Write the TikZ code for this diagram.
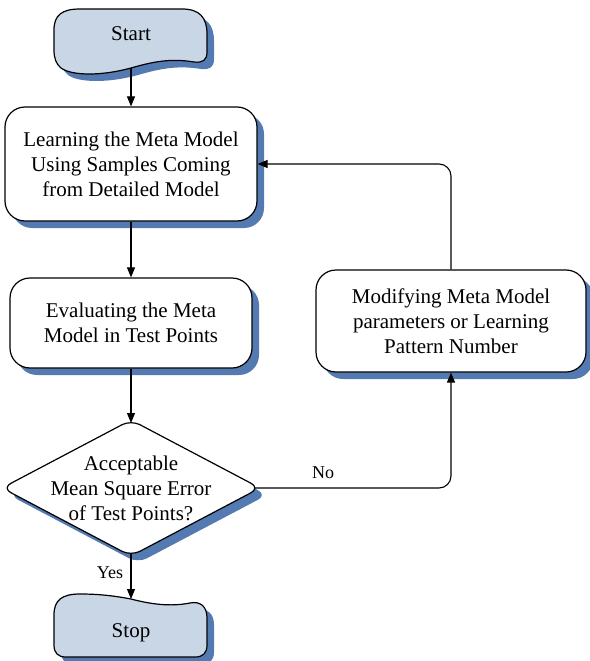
\documentclass[tikz,border=0pt]{standalone}
\usepackage{fontspec}
\setmainfont{Liberation Serif}
\usetikzlibrary{arrows.meta,shadows}
\definecolor{shadowblue}{RGB}{84,122,178}
\definecolor{termfill}{RGB}{201,214,230}
\begin{document}
\begin{tikzpicture}[x=1pt,y=-1pt,
  myshadow/.style={drop shadow={shadow xshift=7pt,shadow yshift=-7pt,fill=shadowblue,opacity=1}},
  procbox/.style={draw=black,line width=1.2pt,fill=white,rounded corners=20pt,myshadow,
    align=center,font=\fontsize{21}{25}\selectfont,inner sep=0pt},
  shapeline/.style={draw=black,line width=1.2pt,myshadow},
  txt/.style={align=center,font=\fontsize{21}{25}\selectfont,inner sep=0pt},
  conn/.style={draw=black,line width=1.1pt,-{Triangle[length=10pt,width=8pt]}},
  lbl/.style={font=\fontsize{18}{21}\selectfont,inner sep=0pt}]
\useasboundingbox (0,0) rectangle (589,661);
% Start terminal
\path[shapeline,fill=termfill] (54,30) .. controls (54,15) and (62,9) .. (80,9) -- (182,9)
  .. controls (200,9) and (207,18) .. (207,34) -- (207,52)
  .. controls (207,60) and (203,63) .. (194,62)
  .. controls (170,58) and (152,62) .. (131,68)
  .. controls (102,76) and (72,76) .. (61,68)
  .. controls (56,64) and (54,58) .. (54,50) -- cycle;
\node[txt] (start) at (131,34) {Start};
\coordinate (starttip) at (131,68);
% Process boxes
\node[procbox,minimum width=252pt,minimum height=114pt] (learn) at (131,164)
  {Learning the Meta Model\\Using Samples Coming\\from Detailed Model};
\node[procbox,minimum width=242pt,minimum height=90pt] (eval) at (131,323)
  {Evaluating the Meta\\Model in Test Points};
\node[procbox,minimum width=270pt,minimum height=102pt] (mod) at (451,321)
  {Modifying Meta Model\\parameters or Learning\\Pattern Number};
% Decision
\path[shapeline,fill=white,rounded corners=10pt] (131,420) -- (260,488) -- (131,556) -- (2,488) -- cycle;
\node[txt] (dec) at (131,488) {Acceptable\\Mean Square Error\\of Test Points?};
\coordinate (decN) at (131,423);
\coordinate (decS) at (131,553);
\coordinate (decE) at (255,488);
% Stop terminal
\path[shapeline,fill=termfill] (54,615) .. controls (54,600) and (62,594) .. (80,594)
  .. controls (100,594) and (115,596) .. (131,599)
  .. controls (150,604) and (170,607) .. (190,603)
  .. controls (200,601) and (207,606) .. (207,618) -- (207,645)
  .. controls (207,653) and (203,657) .. (195,657) -- (66,657)
  .. controls (58,657) and (54,653) .. (54,645) -- cycle;
\node[txt] (stop) at (131,633) {Stop};
\coordinate (stoptop) at (131,599);
% Connectors
\draw[conn] (starttip) -- (learn.north);
\draw[conn] (learn.south) -- (eval.north);
\draw[conn] (eval.south) -- (decN);
\draw[conn] (decS) -- (stoptop);
\draw[conn,rounded corners=12pt] (decE) -| (mod.south);
\draw[conn,rounded corners=12pt] (mod.north) |- (learn.east);
\node[lbl] (no) at (323,473) {No};
\node[lbl] (yes) at (110,573) {Yes};
\end{tikzpicture}
\end{document}
